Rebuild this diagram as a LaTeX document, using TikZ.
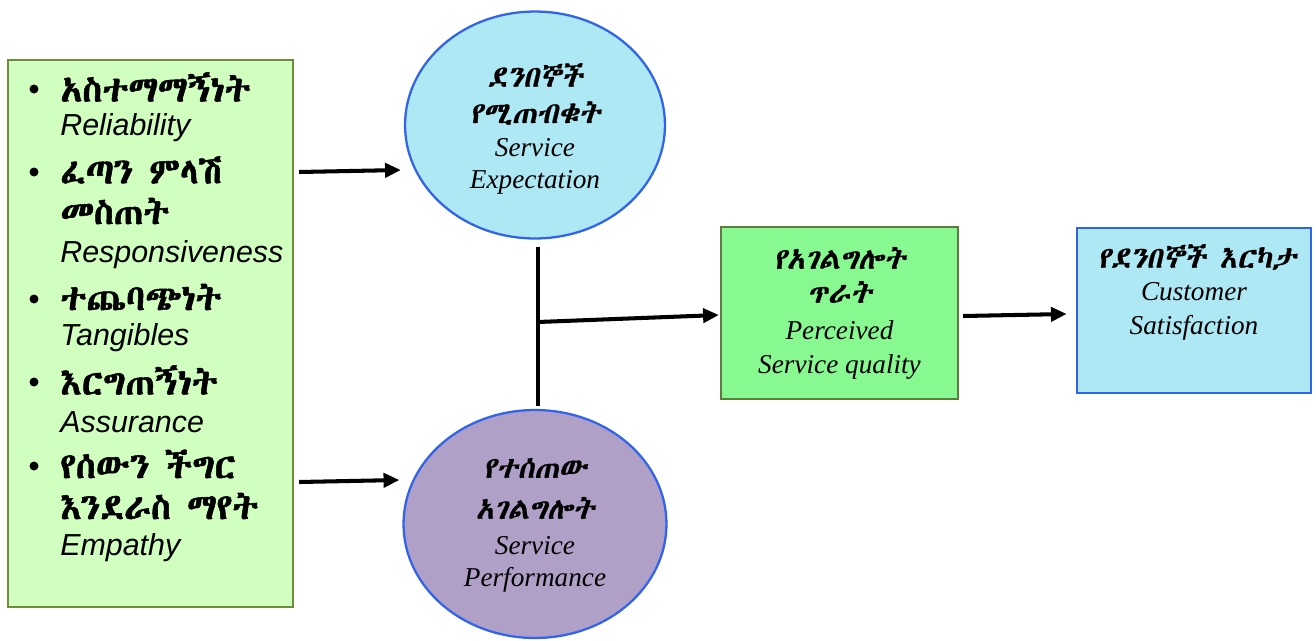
\documentclass[tikz,border=0pt]{standalone}
\usepackage{fontspec}
\usetikzlibrary{arrows.meta,shapes.geometric}
\setmainfont{Liberation Serif}
\setsansfont{Liberation Sans}
\IfFontExistsTF{Abyssinica SIL}{%
  \newfontfamily\eth{Abyssinica SIL}[FakeBold=1.5]
  \newfontfamily\ethit{Abyssinica SIL}[FakeSlant=0.2,FakeBold=0.6]%
}{\IfFontExistsTF{FreeSerif}{%
  \newfontfamily\eth{FreeSerif}[FakeBold=1.5]
  \newfontfamily\ethit{FreeSerif}[FakeSlant=0.2,FakeBold=0.6]%
}{%
  \newfontfamily\eth{Noto Sans}
  \newfontfamily\ethit{Noto Sans}[FakeSlant=0.2]%
}}
\definecolor{lfill}{RGB}{208,255,192}
\definecolor{lborder}{RGB}{110,140,60}
\definecolor{cyanfill}{RGB}{173,232,244}
\definecolor{blueline}{RGB}{50,100,235}
\definecolor{purplefill}{RGB}{176,160,200}
\definecolor{gfill}{RGB}{136,248,144}
\definecolor{gborder}{RGB}{90,125,60}
\begin{document}
\begin{tikzpicture}[x=0.02cm,y=-0.02cm,
  conn/.style={line width=2.3pt},
  arr/.style={line width=2.3pt,-{Triangle[length=9pt,width=8pt]}},
  ethb/.style={anchor=west,inner sep=0pt,font=\eth\fontsize{20.5}{24}\selectfont},
  engs/.style={anchor=west,inner sep=0pt,font=\sffamily\itshape\fontsize{17.3}{20}\selectfont},
  bul/.style={circle,fill=black,inner sep=0pt,minimum size=0.18cm},
  ethi/.style={inner sep=0pt,font=\ethit\fontsize{17}{20}\selectfont},
  engi/.style={inner sep=0pt,font=\itshape\fontsize{15.5}{18}\selectfont},
  ell/.style={ellipse,draw=blueline,line width=1.3pt,minimum width=5.2cm,minimum height=4.54cm,inner sep=0pt}
]
\useasboundingbox (0,0) rectangle (1316,640);
% left box
\node[draw=lborder,fill=lfill,line width=1.2pt,minimum width=5.7cm,minimum height=10.94cm,inner sep=0pt] (lb) at (150.5,333.5) {};
\node[bul] (b1) at (34,89) {};
\node[bul] (b2) at (34,172) {};
\node[bul] (b3) at (34,299) {};
\node[bul] (b4) at (34,382) {};
\node[bul] (b5) at (34,466) {};
\node[ethb] (l1) at (60,87) {አስተማማኝነት};
\node[engs] (l2) at (60,128) {Reliability};
\node[ethb] (l3) at (60,170) {ፈጣን ምላሽ};
\node[ethb] (l4) at (60,211) {መስጠት};
\node[engs] (l5) at (60,255) {Responsiveness};
\node[ethb] (l6) at (60,297) {ተጨባጭነት};
\node[engs] (l7) at (60,338) {Tangibles};
\node[ethb] (l8) at (60,380) {እርግጠኝነት};
\node[engs] (l9) at (60,422) {Assurance};
\node[ethb] (l10) at (60,464) {የሰውን ችግር};
\node[ethb] (l11) at (60,506) {እንደራስ ማየት};
\node[engs] (l12) at (60,548) {Empathy};
% ellipses
\node[ell,fill=cyanfill] (te) at (535,125) {};
\node[ethi] (t1) at (535,75) {ደንበኞች};
\node[ethi] (t2) at (535,113) {የሚጠብቁት};
\node[engi] (t3) at (535,148) {Service};
\node[engi] (t4) at (535,182) {Expectation};
\node[ell,fill=purplefill,minimum width=5.26cm,minimum height=4.56cm] (be) at (535,524) {};
\node[ethi] (p1) at (535,468) {የተሰጠው};
\node[ethi] (p2) at (535,508) {አገልግሎት};
\node[engi] (p3) at (535,546) {Service};
\node[engi] (p4) at (535,580) {Performance};
% perceived quality box
\node[draw=gborder,fill=gfill,line width=1.3pt,minimum width=4.74cm,minimum height=3.44cm,inner sep=0pt] (gq) at (839.5,313) {};
\node[ethi] (g1) at (839.5,258) {የአገልግሎት};
\node[ethi] (g2) at (839.5,292) {ጥራት};
\node[engi] (g3) at (839.5,330) {Perceived};
\node[engi] (g4) at (839.5,367) {Service quality};
% satisfaction box
\node[draw=blueline,fill=cyanfill,line width=1.5pt,minimum width=4.68cm,minimum height=3.3cm,inner sep=0pt] (cs) at (1194,310.5) {};
\node[ethi] (c1) at (1197,257) {የደንበኞች እርካታ};
\node[engi] (c2) at (1194,292) {Customer};
\node[engi] (c3) at (1194,328) {Satisfaction};
% connectors
\coordinate (j) at (538,322);
\draw[arr] ([xshift=0.1cm]lb.east |- 0,172) -- ([xshift=-0.06cm]te.west |- 0,170);
\draw[arr] ([xshift=0.1cm]lb.east |- 0,482) -- ([xshift=-0.06cm]be.west |- 0,480);
\draw[conn] ([yshift=-0.14cm]te.south -| j) -- ([yshift=0.06cm]be.north -| j);
\draw[arr] (j) -- ([xshift=-0.02cm]gq.west |- 0,315);
\draw[arr] ([xshift=0.08cm]gq.east |- 0,316) -- ([xshift=-0.18cm]cs.west |- 0,314);
\end{tikzpicture}
\end{document}
